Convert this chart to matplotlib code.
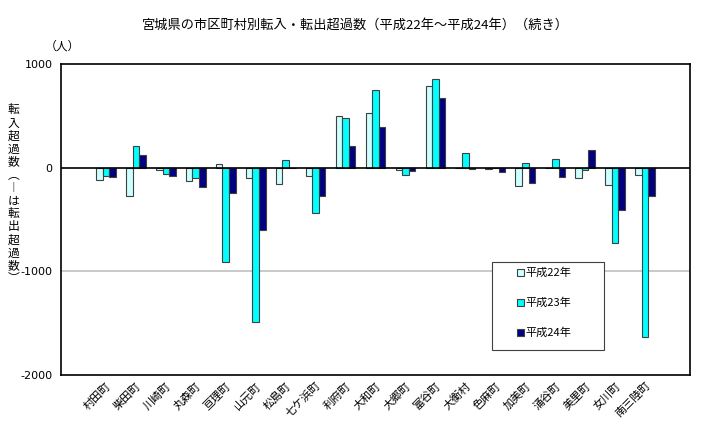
import numpy as np
import matplotlib
matplotlib.use("Agg")
import matplotlib.pyplot as plt
from matplotlib.patches import Rectangle

plt.rcParams['font.family'] = ['Noto Sans CJK JP', 'DejaVu Sans']

towns = ['村田町', '柴田町', '川崎町', '丸森町', '亘理町', '山元町', '松島町', '七ケ浜町',
         '利府町', '大和町', '大郷町', '富谷町', '大衡村', '色麻町', '加美町', '涌谷町',
         '美里町', '女川町', '南三陸町']
h22 = [-120, -278, -20, -133, 39, -100, -154, -84, 496, 529, -20, 785, 0, -10, -180, -5, -100, -164, -67]
h23 = [-78, 209, -65, -104, -914, -1487, 77, -433, 481, 753, -67, 859, 140, 0, 44, 87, -20, -728, -1635]
h24 = [-94, 126, -78, -188, -242, -603, -5, -269, 208, 397, -29, 676, -8, -38, -148, -93, 166, -410, -276]
series = ['平成22年', '平成23年', '平成24年']
colors = ['#ccffff', '#00ffff', '#000080']


def draw():
    fig = plt.figure(figsize=(7.11, 4.37), dpi=100)
    ax = fig.add_axes([0.0858, 0.1419, 0.8847, 0.7116])

    x = np.arange(len(towns))
    w = 0.22
    for i, (vals, lab, col) in enumerate(zip([h22, h23, h24], series, colors)):
        ax.bar(x + (i - 1) * w, vals, w, color=col, edgecolor='#404040',
               linewidth=0.8, label=lab, zorder=3)

    ax.set_xlim(-1.5, len(towns) + 0.5)
    ax.set_ylim(-2000, 1000)
    ax.set_yticks([1000, 0, -1000, -2000])
    ax.set_yticklabels(['1000', '0', '-1000', '-2000'], fontsize=8,
                       family=['DejaVu Sans'])
    ax.axhline(-1000, color='#c0c0c0', linewidth=1.2, zorder=1)
    ax.axhline(0, color='black', linewidth=1.2, zorder=4)
    ax.tick_params(axis='both', length=0, pad=6)

    ax.set_xticks(x)
    ax.set_xticklabels(towns, rotation=45, ha='right', va='top', fontsize=8,
                       rotation_mode='anchor')
    ax.tick_params(axis='x', pad=4)
    for s in ax.spines.values():
        s.set_color('black')
        s.set_linewidth(1.2)

    # legend box drawn separately so it can be wider than its contents
    ax.add_patch(Rectangle((0.685, 0.080), 0.178, 0.283, transform=ax.transAxes,
                           facecolor='white', edgecolor='#404040',
                           linewidth=0.8, zorder=5))
    leg = ax.legend(loc='upper left', bbox_to_anchor=(0.725, 0.345),
                    fontsize=8, frameon=False,
                    handlelength=0.6, handleheight=0.6, handletextpad=0.15,
                    labelspacing=1.75, borderpad=0, borderaxespad=0)
    leg.set_zorder(6)

    fig.text(0.5, 0.942, '宮城県の市区町村別転入・転出超過数（平成22年～平成24年）（続き）',
             ha='center', va='center', fontsize=9.5)
    fig.text(0.063, 0.895, '（人）', ha='left', va='center', fontsize=8.5)
    ylab = '転入超過数︵︱は転出超過数︶'
    fig.text(0.019, 0.555, '\n'.join(ylab), ha='center', va='center',
             fontsize=8.5, linespacing=1.0)

    fig.savefig('out.png', dpi=100)


if __name__ == "__main__":
    draw()
